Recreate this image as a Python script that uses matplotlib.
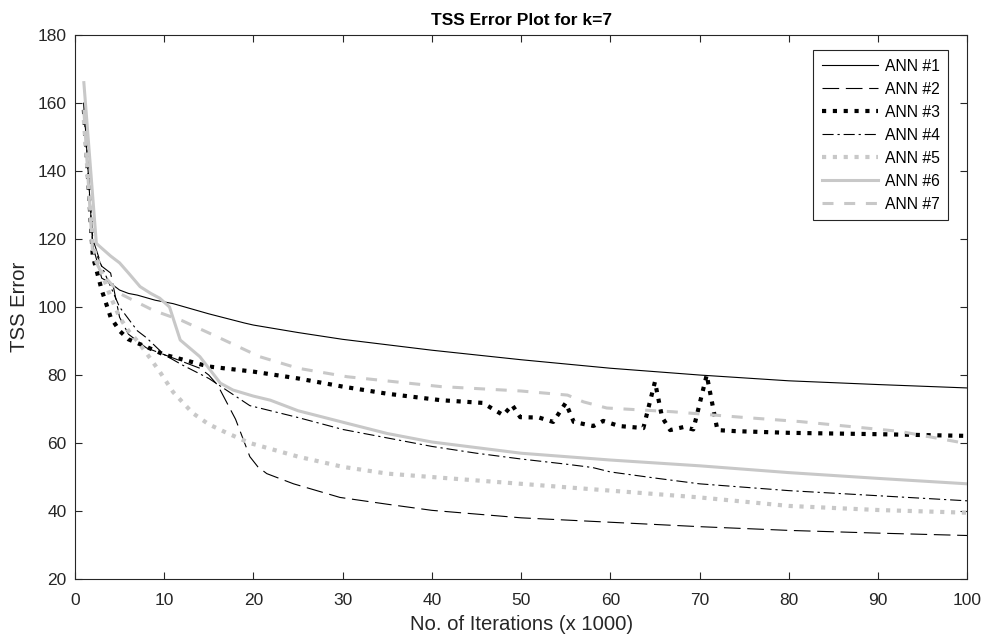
import numpy as np
import matplotlib.pyplot as plt

plt.rcParams['font.family'] = ['Liberation Sans', 'DejaVu Sans']

# Values (x in thousands of iterations)
ann1_x = [1, 2, 3, 4, 5, 6, 7, 9, 11, 15, 19, 20, 25, 30, 40, 50, 60, 70, 80, 90, 100]
ann1_y = [160, 118, 108.5, 107, 105, 104, 103.5, 102, 101, 98, 95.3, 94.7, 92.5, 90.5, 87.3, 84.5, 82, 80, 78.3, 77.2, 76.2]

ann2_x = [1, 2, 3, 4, 5, 6, 8, 10, 12, 14, 15, 16, 18, 19.6, 20.5, 21.5, 24.5, 29.7, 35, 40, 50, 60, 70, 80, 90, 100]
ann2_y = [160, 120, 112, 110, 97, 92, 88, 86, 84, 82, 80, 77, 67, 56, 53, 51, 48, 44, 42, 40.2, 38, 36.7, 35.4, 34.3, 33.5, 32.8]

ann3_x = [1, 2, 3, 4, 5, 6, 8, 10, 15, 20, 25, 30, 35, 41, 45.7, 48, 49, 49.9, 52, 53.6, 55, 55.9, 58.1,
          59.2, 61, 63.7, 65, 65.8, 66.7, 68.2, 69.3, 70.8, 72, 74, 80, 90, 100]
ann3_y = [158, 115, 105, 97, 93, 90.5, 88.3, 86, 82.5, 81, 79, 76.6, 74.5, 72.6, 71.8, 68.2, 71.2, 67.6, 67.5, 66.2,
          71.8, 66.2, 65, 66.5, 65, 64.4, 78, 67.6, 63.8, 64.7, 64, 80, 63.8, 63.5, 63, 62.6, 62.1]

ann4_x = [1, 2, 3, 5, 7, 8, 10, 12, 15, 19.6, 25, 30, 35, 40, 45, 50, 55, 58, 60, 65, 70, 75, 80, 90, 100]
ann4_y = [158, 118, 112, 100, 93, 91, 86, 83, 79, 71, 67.5, 64, 61.5, 59, 57, 55.3, 53.8, 52.8, 51.5, 49.7, 48, 47, 46, 44.5, 43]

ann5_x = [1, 2, 3, 4, 5, 6, 7, 8, 9.5, 11, 13.2, 15, 17, 19.6, 25, 30, 35, 40, 50, 60, 70, 80, 90, 100]
ann5_y = [155, 118, 110, 103, 97, 93, 90, 86.5, 81, 75, 68.8, 65.5, 63, 60, 56, 53, 51, 50, 48, 46, 44, 41.5, 40.3, 39.5]

ann6_x = [1, 2.4, 4, 5, 6, 7.3, 8.5, 9.5, 10.6, 11.8, 14, 16.3, 17.7, 20, 21.9, 25, 30.5, 35, 40, 50, 60, 70, 80, 90, 100]
ann6_y = [166, 118.7, 115, 113, 110, 106, 104, 102.6, 100, 90.3, 85.4, 77.6, 75.6, 73.8, 72.6, 69.5, 65.8, 62.8, 60.3, 57, 55, 53.3, 51.3, 49.6, 48]

ann7_x = [1, 2, 3, 5, 8.8, 12, 15.9, 20.7, 25, 30.5, 41, 50, 55.2, 57, 59.6, 67, 74.6, 81.3, 92.5, 99.6]
ann7_y = [158, 115, 110, 104, 99, 96, 91.3, 85.4, 82, 79.5, 76.6, 75.3, 74.1, 72.1, 70.3, 69.2, 67.6, 66.3, 63.4, 60]

labels = ['ANN #1', 'ANN #2', 'ANN #3', 'ANN #4', 'ANN #5', 'ANN #6', 'ANN #7']

gray = '#c8c8c8'
ink = '#262626'
fig = plt.figure(figsize=(9.86, 6.43), dpi=100)
ax = fig.add_axes([0.076, 0.0995, 0.905, 0.846])

ax.plot(ann1_x, ann1_y, color='black', lw=0.8, label=labels[0])
ax.plot(ann2_x, ann2_y, color='black', lw=0.8, linestyle=(0, (15, 6)), label=labels[1])
ax.plot(ann3_x, ann3_y, color='black', lw=3, linestyle=(0, (1, 1.6)), dash_capstyle='butt', label=labels[2])
ax.plot(ann4_x, ann4_y, color='black', lw=0.8, linestyle=(0, (10, 3.5, 2, 3.5)), label=labels[3])
ax.plot(ann5_x, ann5_y, color=gray, lw=3, linestyle=(0, (1, 1.6)), dash_capstyle='butt', label=labels[4])
ax.plot(ann6_x, ann6_y, color=gray, lw=2.2, label=labels[5])
ax.plot(ann7_x, ann7_y, color=gray, lw=2.2, linestyle=(0, (3.6, 3.5)), dash_capstyle='butt', label=labels[6])

ax.set_xlim(0, 100)
ax.set_ylim(20, 180)
ax.set_xticks(np.arange(0, 101, 10))
ax.set_yticks(np.arange(20, 181, 20))
ax.tick_params(direction='in', top=True, right=True, labelsize=12.5, colors=ink, length=5)
ax.tick_params(axis='x', pad=10)
ax.tick_params(axis='y', pad=6)
for s in ax.spines.values():
    s.set_color(ink)
    s.set_linewidth(0.8)

ax.set_xlabel('No. of Iterations (x 1000)', fontsize=14.6, color=ink, labelpad=5)
ax.set_ylabel('TSS Error', fontsize=14.6, color=ink, labelpad=6)
ax.set_title('TSS Error Plot for k=7', fontsize=12.5, fontweight='bold', pad=7)

leg = ax.legend(loc='upper right', bbox_to_anchor=(0.9787, 0.9724), borderaxespad=0,
                fontsize=11.3, handlelength=3.6, fancybox=False, framealpha=1,
                edgecolor=ink, labelspacing=0.51, handletextpad=0.4, borderpad=0.55)
leg.get_frame().set_linewidth(0.8)

fig.savefig('out.png', dpi=100)
